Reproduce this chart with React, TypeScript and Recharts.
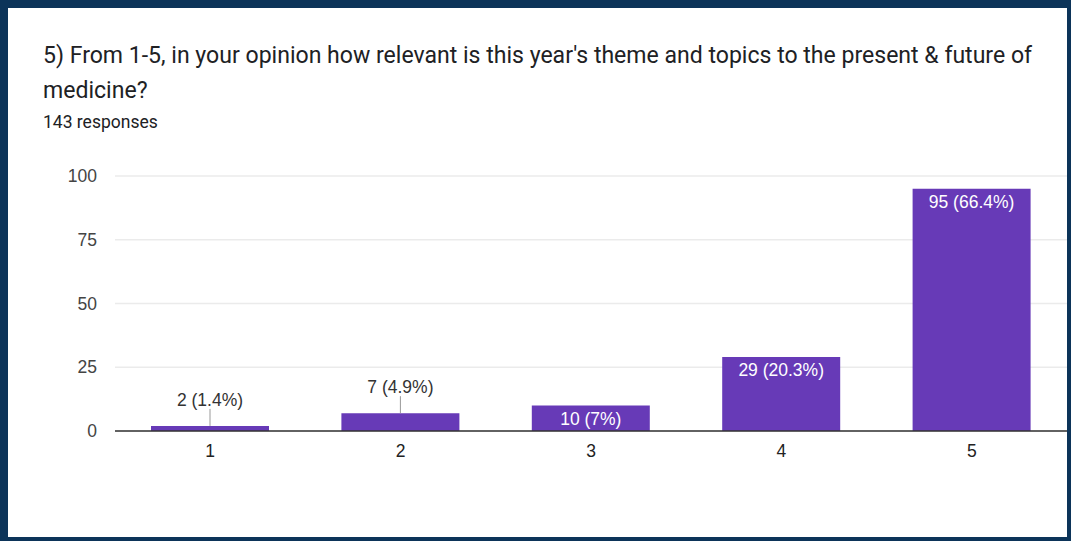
import React from 'react';
import { BarChart, Bar, XAxis, YAxis, CartesianGrid, LabelList } from 'recharts';

const categories = ['1', '2', '3', '4', '5'];
const counts = [2, 7, 10, 29, 95];
const percents = ['1.4%', '4.9%', '7%', '20.3%', '66.4%'];
const yTicks = [0, 25, 50, 75, 100];

const data = categories.map((c, i) => ({ name: c, value: counts[i], pct: percents[i] }));

const TITLE_FONT = 'Roboto, Arial, sans-serif';
const FONT = '"Liberation Sans", Arial, sans-serif';
const FS = 17.5;

const BarLabel = (props: any) => {
  const { x, y, width, height, index } = props;
  const cx = x + width / 2;
  const text = `${counts[index]} (${percents[index]})`;
  if (height < 22) {
    return (
      <g>
        <line x1={cx} x2={cx} y1={y - 17} y2={y} stroke="#999" strokeWidth={1} />
        <text x={cx} y={y - 20} textAnchor="middle" fill="#333" fontSize={FS} fontFamily={FONT}>
          {text}
        </text>
      </g>
    );
  }
  return (
    <text x={cx} y={y + 19} textAnchor="middle" fill="#fff" fontSize={FS} fontFamily={FONT}>
      {text}
    </text>
  );
};

export default function App() {
  return (
    <div style={{ position: 'absolute', left: 0, top: 0, width: 1071, height: 541, background: '#0c3459', overflow: 'hidden' }}>
      <div style={{ position: 'absolute', left: 8, top: 8, width: 1059, height: 529, background: '#fff' }} />
      <div style={{ position: 'absolute', left: 43, top: 42, fontFamily: TITLE_FONT, fontSize: 23.05, color: '#202124', whiteSpace: 'nowrap', lineHeight: '28px' }}>
        5) From 1-5, in your opinion how relevant is this year's theme and topics to the present &amp; future of
      </div>
      <div style={{ position: 'absolute', left: 43, top: 77, fontFamily: TITLE_FONT, fontSize: 23.05, color: '#202124', whiteSpace: 'nowrap', lineHeight: '28px' }}>
        medicine?
      </div>
      <div style={{ position: 'absolute', left: 43, top: 110.5, fontFamily: TITLE_FONT, fontSize: 17.5, color: '#202124', whiteSpace: 'nowrap', lineHeight: '22px' }}>
        143 responses
      </div>
      <div style={{ position: 'absolute', left: 0, top: 0 }}>
        <BarChart width={1071} height={541} data={data} margin={{ top: 176, right: 4, bottom: 80, left: 0 }}>
          <CartesianGrid horizontal vertical={false} stroke="#ebebeb" strokeWidth={1.5} />
          <XAxis
            dataKey="name"
            height={30}
            axisLine={{ stroke: '#333', strokeWidth: 1.5 }}
            tickLine={false}
            tickSize={6}
            tickMargin={8}
            tick={{ fill: '#222', fontSize: FS, fontFamily: FONT }}
          />
          <YAxis
            width={115}
            domain={[0, 100]}
            ticks={yTicks}
            axisLine={false}
            tickLine={false}
            tickSize={6}
            tickMargin={12}
            tick={{ fill: '#444', fontSize: FS, fontFamily: FONT }}
          />
          <Bar dataKey="value" fill="#673ab7" barSize={118} isAnimationActive={false}>
            <LabelList dataKey="value" content={BarLabel} />
          </Bar>
        </BarChart>
      </div>
    </div>
  );
}
